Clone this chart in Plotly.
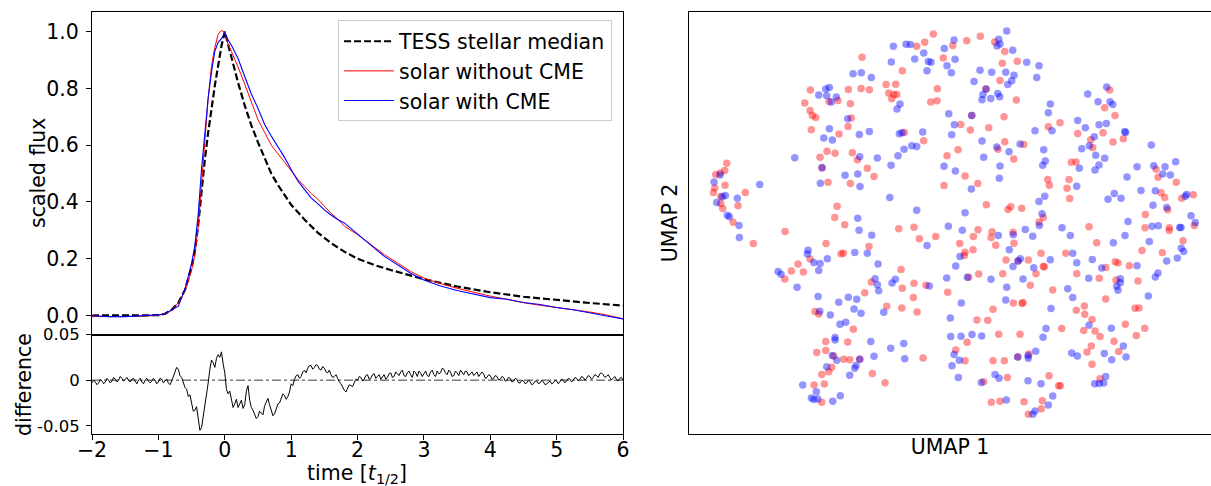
import plotly.graph_objects as go

# ---------------- data: light curves (time in t_1/2 units) ----------------
TESS_T = [-2.0, -1.5, -1.2, -1.0, -0.9, -0.8, -0.7, -0.6, -0.5, -0.45, -0.4, -0.35, -0.3,
          -0.25, -0.2, -0.15, -0.1, -0.05, 0.0, 0.05, 0.1, 0.15, 0.2, 0.3, 0.4, 0.5, 0.6,
          0.7, 0.8, 0.9, 1.0, 1.2, 1.4, 1.6, 1.8, 2.0, 2.25, 2.5, 2.75, 3.0, 3.5, 4.0,
          4.5, 5.0, 5.5, 6.0]
TESS_FLUX = [0.0, 0.0, 0.0, 0.001, 0.006, 0.02, 0.045, 0.09, 0.17, 0.225, 0.32, 0.445, 0.55,
             0.645, 0.73, 0.81, 0.88, 0.95, 1.0, 0.955, 0.915, 0.865, 0.82, 0.74, 0.67, 0.61,
             0.555, 0.50, 0.46, 0.425, 0.39, 0.338, 0.292, 0.255, 0.225, 0.20, 0.178, 0.16,
             0.143, 0.128, 0.102, 0.082, 0.066, 0.054, 0.044, 0.035]

SOLAR_T = [-2.0, -1.75, -1.5, -1.25, -1.0, -0.9, -0.8, -0.7, -0.6, -0.55, -0.5, -0.45, -0.4,
           -0.35, -0.3, -0.25, -0.2, -0.15, -0.1, -0.05, 0.0, 0.05, 0.1, 0.15, 0.2, 0.3, 0.4,
           0.5, 0.6, 0.7, 0.8, 0.9, 1.0, 1.1, 1.2, 1.3, 1.4, 1.5, 1.6, 1.7, 1.8, 1.9, 2.0,
           2.2, 2.4, 2.6, 2.8, 3.0, 3.25, 3.5, 3.75, 4.0, 4.25, 4.5, 4.75, 5.0, 5.25, 5.5,
           5.75, 6.0]
SOLAR_NO_CME = [-0.004, -0.005, -0.004, -0.003, 0.001, 0.006, 0.018, 0.045, 0.085, 0.12, 0.16,
                0.215, 0.315, 0.465, 0.625, 0.765, 0.88, 0.945, 0.99, 1.004, 0.998, 0.955,
                0.93, 0.905, 0.875, 0.815, 0.75, 0.69, 0.645, 0.60, 0.57, 0.54, 0.51, 0.48,
                0.455, 0.43, 0.41, 0.385, 0.36, 0.34, 0.315, 0.30, 0.285, 0.25, 0.215, 0.185,
                0.155, 0.132, 0.112, 0.096, 0.081, 0.068, 0.057, 0.045, 0.036, 0.027, 0.02,
                0.012, 0.002, -0.012]
SOLAR_CME = [-0.001, -0.004, -0.004, -0.002, 0.002, 0.006, 0.019, 0.033, 0.093, 0.138, 0.184,
             0.248, 0.357, 0.517, 0.655, 0.768, 0.858, 0.931, 0.962, 0.975, 0.995, 0.97,
             0.952, 0.931, 0.905, 0.842, 0.78, 0.73, 0.673, 0.632, 0.596, 0.557, 0.514, 0.474,
             0.444, 0.414, 0.394, 0.372, 0.354, 0.338, 0.326, 0.306, 0.285, 0.248, 0.209,
             0.178, 0.149, 0.125, 0.104, 0.088, 0.076, 0.063, 0.057, 0.046, 0.039, 0.028,
             0.02, 0.008, -0.002, -0.012]

# difference (without CME - with CME), read every 0.05 t_1/2 from -2 ...
DIFF_START, DIFF_STEP = -2.0, 0.05
DIFF_V = [
    -0.003, -0.002, -0.003, -0.001, -0.002, 0.000, -0.001, 0.001, 0.000, 0.002,
    0.001, 0.000, 0.001, -0.001, 0.000, -0.002, 0.000, -0.001, -0.001, 0.000,
    -0.002, 0.001, -0.001, -0.003, -0.001, 0.008, 0.012, 0.003, -0.008, -0.018,
    -0.024, -0.033, -0.042, -0.052, -0.030, -0.003, 0.022, 0.014, 0.028, 0.031,
    0.008, -0.015, -0.022, -0.026, -0.030, -0.022, -0.027, -0.006, -0.030, -0.037,
    -0.040, -0.036, -0.028, -0.020, -0.032, -0.037, -0.026, -0.020, -0.017, -0.018,
    -0.004, 0.001, 0.006, 0.004, 0.011, 0.013, 0.016, 0.014, 0.016, 0.011,
    0.013, 0.008, 0.006, 0.004, 0.002, -0.004, -0.011, -0.008, -0.006, -0.003,
    0.000, 0.003, 0.001, 0.006, 0.002, 0.007, 0.004, 0.001, 0.006, 0.003,
    0.008, 0.004, 0.007, 0.009, 0.005, 0.008, 0.006, 0.010, 0.004, 0.008,
    0.007, 0.005, 0.009, 0.006, 0.010, 0.008, 0.012, 0.006, 0.009, 0.005,
    0.008, 0.011, 0.006, 0.009, 0.007, 0.005, 0.009, 0.006, 0.007, 0.003,
    0.005, 0.002, 0.004, 0.001, 0.003, 0.000, 0.002, -0.001, 0.001, -0.003,
    -0.001, -0.003, -0.002, -0.004, -0.001, -0.003, -0.002, -0.004, -0.001, -0.003,
    -0.001, -0.002, 0.000, -0.001, 0.001, 0.000, 0.002, 0.001, 0.003, 0.002,
    0.004, 0.003, 0.005, 0.007, 0.006, 0.004, 0.003, 0.002, 0.001, 0.002,
    0.000]
# ... and the jitter read halfway between those samples
DIFF_V_MID = [
    0.000, -0.005, 0.001, -0.004, 0.002, -0.003, 0.003, -0.002, 0.004, -0.001,
    0.003, -0.002, 0.002, -0.004, 0.002, -0.004, 0.002, -0.003, 0.002, -0.004,
    0.002, -0.003, 0.001, -0.005, 0.004, 0.014, 0.005, -0.002, -0.010, -0.016,
    -0.034, -0.029, -0.055, -0.040, -0.018, 0.012, 0.019, 0.024, 0.025, 0.018,
    -0.010, -0.012, -0.030, -0.021, -0.025, -0.031, -0.012, -0.022, -0.033, -0.042,
    -0.034, -0.038, -0.024, -0.027, -0.039, -0.031, -0.025, -0.015, -0.021, -0.013,
    -0.006, 0.005, 0.002, 0.009, 0.008, 0.016, 0.012, 0.017, 0.012, 0.015,
    0.009, 0.011, 0.003, 0.006, -0.002, -0.008, -0.013, -0.005, -0.007, 0.001,
    0.004, -0.001, 0.005, 0.001, 0.006, 0.002, 0.006, 0.004, 0.001, 0.007,
    0.003, 0.009, 0.005, 0.011, 0.004, 0.010, 0.003, 0.008, 0.010, 0.004,
    0.010, 0.004, 0.011, 0.004, 0.007, 0.013, 0.008, 0.011, 0.004, 0.010,
    0.005, 0.008, 0.010, 0.005, 0.009, 0.007, 0.004, 0.009, 0.002, 0.006,
    0.001, 0.005, 0.000, 0.004, -0.001, 0.003, -0.002, 0.002, -0.003, 0.000,
    -0.004, 0.000, -0.005, -0.001, -0.004, 0.000, -0.005, -0.002, -0.004, 0.000,
    -0.004, 0.001, -0.003, 0.002, -0.002, 0.003, -0.001, 0.004, 0.000, 0.005,
    0.001, 0.006, 0.003, 0.008, 0.003, 0.006, 0.000, 0.004, -0.001, 0.003]
_diff_pts = sorted(
    [(DIFF_START + DIFF_STEP * i, v) for i, v in enumerate(DIFF_V)]
    + [(DIFF_START + DIFF_STEP * (i + 0.5), v) for i, v in enumerate(DIFF_V_MID)])
DIFF_T = [round(t, 4) for t, _ in _diff_pts]
DIFF_Y = [v for _, v in _diff_pts]

TIME_TICKS = [-2, -1, 0, 1, 2, 3, 4, 5, 6]
FLUX_TICKS = [0.0, 0.2, 0.4, 0.6, 0.8, 1.0]
FLUX_TICK_TEXT = ["0.0", "0.2", "0.4", "0.6", "0.8", "1.0"]
DIFF_TICKS = [-0.05, 0.0, 0.05]
DIFF_TICK_TEXT = ["-0.05", "0", "0.05"]

# ---------------- data: UMAP embedding ----------------
RED_U1 = [3.87, 2.77, 3.23, 3.67, 3.7, 2.67, 2.53, 3.27, 3.27, 3.47, 5.73, 5.0,
          17.4, 12.23, 16.03, 17.3, 11.67, 15.0, 14.1, 16.23, 12.2, 12.43, 12.77, 16.33,
          16.0, 12.33, 15.1, 13.9, 13.2, 14.7, 16.43, 16.93, 14.0, 16.23, 14.9, 14.67, 13.4,
          24.53, 23.67, 22.87, 26.47, 27.87, 29.23, 30.67, 31.67, 32.93, 31.43, 25.53, 21.43,
          31.2, 18.13, 19.8, 20.77, 20.07, 20.57, 20.87, 20.37, 24.93, 24.27, 24.9, 29.8,
          32.83, 28.37, 31.6, 27.27, 28.23, 30.07, 21.63, 23.57, 31.67, 33.57, 31.0, 27.0,
          25.9, 32.57, 17.93, 18.6, 27.7, 28.97, 25.6, 29.83, 32.27, 32.0, 33.37,
          42.17, 41.67, 42.7, 37.2, 36.03, 38.97, 41.5, 40.27, 40.47, 42.5, 43.53, 38.33,
          38.8, 35.97, 36.13, 38.1, 37.9, 38.17, 46.8, 47.0, 48.83, 47.3, 47.67, 50.53,
          49.37, 47.97, 45.73, 35.53,
          4.5, 9.7, 6.53, 13.8, 15.67, 15.3, 15.53, 12.2, 11.0, 10.33, 11.53, 9.67, 17.67,
          12.7, 13.07, 16.53, 13.77, 15.97, 12.87, 13.77, 14.57, 15.57, 16.17, 17.17, 14.37,
          14.07, 13.37, 12.6, 13.63, 13.37,
          21.07, 22.6, 23.13, 24.77, 18.1, 27.17, 28.53, 29.0, 30.4, 30.3, 30.77, 32.5, 32.6,
          35.1, 27.7, 27.63, 28.5, 31.8, 34.03, 33.0, 34.8, 21.3, 18.33, 22.6, 23.8, 21.43,
          22.53, 19.87, 21.37, 22.9, 25.97, 28.07, 29.07, 31.47, 34.23, 30.5, 32.53, 33.4,
          33.5, 28.9, 29.97, 31.07, 33.2, 27.9, 26.77, 23.5, 27.7, 30.5, 31.63, 32.97, 34.1,
          18.43, 19.7, 29.57, 31.93, 30.33, 31.2, 33.6, 34.03,
          40.1, 45.7, 48.13, 48.13, 50.63, 40.87, 49.5, 45.4, 47.43, 35.3, 37.77, 35.63,
          35.53, 38.87, 41.77, 42.73, 43.0, 44.13, 41.13, 42.8, 45.0, 36.47, 41.77, 38.83,
          39.63, 39.67, 40.4, 44.7, 45.1, 37.37, 39.57, 40.7, 41.2, 43.73, 45.67, 44.83,
          42.6, 40.33, 39.9, 43.07, 40.4, 36.1, 37.07, 37.23, 41.2, 35.43, 35.33]
RED_U2 = [26.83, 25.7, 25.87, 26.1, 24.63, 24.37, 23.9, 23.5, 22.8, 22.3, 23.9, 22.57,
          37.47, 34.17, 34.23, 34.33, 32.87, 33.13, 33.03, 32.8, 32.13, 31.63, 31.43, 31.37,
          30.53, 30.2, 29.77, 28.03, 27.43, 27.83, 27.9, 27.2, 24.93, 24.8, 22.53, 21.4, 26.4,
          39.8, 38.97, 38.57, 38.63, 39.13, 39.57, 39.0, 38.03, 37.07, 36.87, 37.4, 36.1,
          35.13, 34.2, 34.73, 34.77, 33.87, 33.73, 33.73, 33.3, 34.3, 32.97, 33.1, 34.27,
          33.17, 31.63, 31.5, 30.73, 30.17, 30.4, 29.93, 29.1, 29.0, 28.73, 28.23, 28.2,
          27.6, 27.27, 26.33, 25.5, 25.57, 24.8, 24.6, 22.67, 22.47, 22.2, 22.33,
          34.17, 32.4, 31.63, 30.9, 30.5, 29.83, 29.9, 29.2, 28.43, 28.97, 29.3, 26.93,
          26.97, 25.2, 24.63, 25.2, 24.33, 23.3, 26.23, 25.43, 24.93, 23.87, 23.4, 23.67,
          23.33, 22.17, 21.7, 21.4,
          20.93, 20.0, 18.8, 18.8, 20.67, 17.77, 17.83, 17.23, 16.73, 16.03, 15.93, 15.23, 13.87,
          11.97, 11.73, 10.2, 8.97, 8.93, 7.87, 8.07, 7.53, 7.2, 7.13, 7.2, 6.4,
          5.93, 5.67, 4.6, 4.7, 2.87,
          20.27, 20.43, 19.27, 19.5, 18.5, 18.8, 19.5, 20.17, 19.97, 19.4, 18.63, 19.93, 18.83,
          20.93, 17.93, 17.6, 18.17, 17.13, 17.13, 17.03, 15.77, 16.2, 14.93, 14.8, 14.6, 14.3,
          13.37, 12.5, 12.33, 11.93, 13.9, 15.4, 15.73, 15.77, 14.6, 12.2, 12.83, 12.77,
          12.87, 11.13, 11.1, 9.7, 9.7, 8.9, 8.13, 7.33, 7.03, 7.03, 7.03, 7.43, 7.73,
          5.77, 4.83, 4.93, 5.37, 2.87, 2.97, 2.93, 1.67,
          20.47, 20.37, 20.37, 20.1, 20.6, 18.87, 19.07, 18.1, 17.87, 17.83, 17.83, 16.47,
          16.5, 15.77, 16.4, 16.97, 16.83, 16.57, 15.3, 15.13, 15.03, 14.13, 13.23, 12.1,
          12.53, 11.7, 11.17, 12.3, 12.33, 10.27, 10.07, 10.03, 9.47, 10.7, 10.3, 9.57,
          9.0, 8.53, 7.93, 7.97, 6.7, 5.53, 4.53, 4.53, 5.23, 3.03, 2.23]

BLUE_U1 = [16.5, 17.33, 13.07, 13.77, 14.13, 13.87, 14.83, 14.33, 15.97, 14.13, 13.57, 14.43,
           17.13, 10.67, 13.4, 17.17, 15.7, 16.97, 13.23, 17.2, 2.6, 3.2, 3.73, 3.43, 2.87,
           4.93, 7.17, 3.93, 4.13, 16.97,
           20.53, 21.8, 22.23, 26.6, 25.63, 23.57, 22.67, 24.03, 24.3, 26.7, 25.9, 23.9, 26.33,
           20.33, 18.33, 31.87, 31.07, 31.2, 30.9, 32.47, 33.87, 35.1, 29.2, 30.37, 31.77,
           32.6, 32.37, 31.97, 34.87, 28.6, 29.8, 29.5, 29.4, 30.27, 30.97, 31.17, 21.2, 20.9,
           26.07, 28.37, 26.63, 26.37, 18.13, 21.13, 21.4, 23.47, 34.7, 22.37, 22.87, 21.6,
           21.0, 18.93, 20.3, 29.4, 30.87, 33.2, 32.1, 29.57, 25.6, 26.73, 31.2, 31.13, 28.33,
           20.17, 22.87, 27.7, 35.1,
           41.87, 39.97, 41.0, 42.2, 42.47, 36.23, 36.03, 36.4, 38.97, 39.73, 41.1, 41.83,
           43.67, 43.77, 40.63, 40.13, 39.37, 40.77, 41.67, 41.1, 40.7, 39.13, 35.57, 35.73,
           35.47, 35.67, 38.87, 46.33, 44.9, 46.57, 47.7, 48.77, 47.47, 48.23, 43.9, 45.3,
           46.73, 42.63, 42.0, 43.3, 46.5, 47.87, 49.87, 49.73, 50.3, 35.4,
           5.1, 5.13, 17.1, 12.0, 11.93, 12.57, 13.2, 13.93, 13.07, 9.0, 9.3, 16.67, 10.9,
           13.0, 15.07, 16.03, 16.87, 16.6, 17.3, 13.17, 14.23, 15.2, 15.77, 14.7, 14.7,
           14.43, 14.87, 13.87, 16.8, 16.67, 16.17, 17.17, 11.47, 12.83, 12.33, 12.57, 12.97,
           14.47, 15.23,
           18.37, 17.93, 26.03, 27.43, 23.9, 31.03, 32.53, 33.73, 34.47, 35.13, 32.13, 27.2,
           26.77, 19.0, 18.7, 18.93, 19.07, 20.4, 20.73, 24.13, 25.87, 27.93, 30.3, 32.5,
           33.23, 33.0, 34.57, 33.5, 31.87, 31.77, 27.33, 19.57, 26.23, 26.27, 27.3, 28.4,
           29.37, 18.27, 20.27, 21.57, 18.6, 21.67, 26.6, 27.13, 26.4, 27.03, 30.7, 31.1,
           29.33, 34.0, 34.03, 34.77, 32.97, 34.0, 31.83, 34.7, 34.47,
           37.4, 38.23, 44.0, 46.4, 47.03, 49.17, 49.3, 50.73, 43.7, 42.53, 46.13, 49.33,
           49.57, 48.93, 47.87, 38.47, 36.23, 38.87, 40.43, 41.37, 44.9, 40.07, 43.23, 43.23,
           42.87, 43.0, 47.0, 46.73, 46.03, 37.97, 38.47, 36.3, 35.8, 35.5, 40.1, 42.33,
           43.53, 38.37, 38.93, 41.63, 42.37, 43.8, 41.77, 40.67, 41.13, 41.57, 35.3, 36.47,
           36.03]
BLUE_U2 = [35.8, 35.9, 33.67, 34.27, 34.43, 33.6, 33.47, 32.97, 31.3, 30.3, 29.37, 29.17,
           29.73, 27.4, 26.4, 27.5, 25.63, 25.77, 24.83, 24.5, 24.97, 25.67, 23.6, 23.47, 22.9,
           23.33, 24.7, 21.63, 21.47, 21.33,
           38.57, 38.77, 38.73, 39.2, 38.33, 37.9, 37.3, 37.03, 36.97, 37.27, 36.6, 36.1, 35.9,
           37.0, 35.43, 40.1, 39.27, 38.8, 38.6, 38.17, 36.97, 36.6, 36.17, 35.97, 35.97,
           35.67, 35.1, 34.73, 35.43, 35.03, 34.27, 33.73, 33.2, 33.33, 33.83, 33.5, 32.77, 32.27,
           31.8, 31.63, 30.7, 29.7, 30.03, 29.8, 29.9, 29.97, 30.1, 28.6, 28.53, 28.23,
           27.6, 27.37, 26.63, 29.07, 28.47, 28.77, 28.0, 27.43, 26.53, 26.07, 26.57, 25.33, 24.27,
           23.4, 22.13, 21.87, 23.0,
           34.47, 33.77, 33.0, 33.0, 32.73, 32.77, 31.9, 30.1, 31.13, 30.4, 30.7, 30.83,
           30.03, 29.93, 29.5, 28.6, 28.3, 27.63, 27.33, 26.67, 26.17, 26.33, 28.2, 27.07,
           26.63, 23.53, 24.53, 28.67, 26.5, 26.6, 26.5, 27.0, 25.77, 25.67, 25.47, 24.1,
           24.07, 23.8, 23.23, 23.33, 22.63, 22.4, 23.7, 23.53, 21.57, 21.77,
           20.6, 19.4, 20.13, 18.13, 17.73, 16.9, 16.8, 17.27, 16.1, 16.0, 15.7, 17.9, 14.4,
           13.47, 12.9, 13.4, 13.2, 12.23, 11.8, 12.0, 11.63, 10.7, 10.9, 9.37, 9.13,
           7.57, 7.1, 6.43, 6.57, 6.3, 5.6, 7.2, 4.6, 3.93, 3.3, 3.17, 3.2,
           2.97, 3.53,
           19.63, 17.83, 20.53, 20.13, 18.6, 19.6, 19.67, 20.2, 19.53, 20.6, 18.17, 17.5,
           16.53, 16.73, 15.27, 14.67, 14.07, 14.83, 15.2, 14.53, 15.33, 15.4, 15.2, 16.5,
           17.27, 17.03, 16.37, 15.23, 14.4, 13.13, 12.83, 11.9, 11.33, 9.47, 9.5, 9.67,
           9.53, 8.97, 8.3, 8.77, 7.5, 7.23, 7.67, 7.1, 6.53, 5.37, 5.67, 5.3,
           4.87, 7.57, 7.3, 8.0, 7.43, 5.03, 3.1, 2.0, 1.67,
           20.37, 19.6, 21.0, 20.53, 20.57, 20.4, 20.4, 20.9, 19.6, 18.87, 19.0, 18.33,
           18.0, 17.33, 17.03, 17.83, 17.17, 16.87, 17.2, 16.33, 16.57, 15.3, 15.27, 14.87,
           14.5, 14.1, 15.83, 15.43, 13.53, 14.27, 13.37, 12.27, 10.27, 9.4, 10.6, 10.3,
           8.53, 7.83, 7.53, 7.77, 7.13, 7.43, 5.47, 4.73, 4.77, 4.8, 4.73, 3.5,
           2.6]

FONT = "DejaVu Sans"
FS = 20.5
FS_DIFF_TICKS = 16.5
BLUE = "rgb(0,0,255)"
RED = "rgb(255,0,0)"

fig = go.Figure()

fig.add_trace(go.Scatter(x=TESS_T, y=TESS_FLUX, mode="lines", name="TESS stellar median",
                         line=dict(color="black", width=2.2, dash="7px,3px"),
                         legendrank=1, xaxis="x", yaxis="y"))
fig.add_trace(go.Scatter(x=SOLAR_T, y=SOLAR_NO_CME, mode="lines", name="solar without CME",
                         line=dict(color=RED, width=1), legendrank=2,
                         xaxis="x", yaxis="y"))
fig.add_trace(go.Scatter(x=SOLAR_T, y=SOLAR_CME, mode="lines", name="solar with CME",
                         line=dict(color=BLUE, width=1.1), legendrank=3,
                         xaxis="x", yaxis="y"))

fig.add_trace(go.Scatter(x=RED_U1, y=RED_U2, mode="markers", showlegend=False,
                         marker=dict(color="rgba(255,0,0,0.42)", size=7.5, line=dict(width=0)),
                         xaxis="x3", yaxis="y3"))
fig.add_trace(go.Scatter(x=BLUE_U1, y=BLUE_U2, mode="markers", showlegend=False,
                         marker=dict(color="rgba(0,0,255,0.42)", size=7.5, line=dict(width=0)),
                         xaxis="x3", yaxis="y3"))

fig.add_trace(go.Scatter(x=DIFF_T, y=DIFF_Y, mode="lines", showlegend=False,
                         line=dict(color="black", width=1), xaxis="x2", yaxis="y2"))

# zero reference line in the difference panel
fig.add_shape(type="line", xref="x2 domain", yref="y2", x0=0, x1=1, y0=0, y1=0,
              line=dict(color="black", width=0.8, dash="dashdot"), layer="below")

axis_common = dict(showgrid=False, zeroline=False, showline=True, linecolor="black",
                   linewidth=1, tickfont=dict(family=FONT, size=FS, color="black"),
                   ticks="outside", ticklen=5, tickwidth=1, tickcolor="black",
                   automargin=False)
title_font = dict(family=FONT, size=FS, color="black")

LEFT_DOM = [0.076, 0.5145]
BOTTOM = 0.107
SPLIT = 0.3117
TOP = 0.9753
fig.update_layout(
    width=1211, height=486,
    margin=dict(l=0, r=0, t=0, b=0),
    paper_bgcolor="white", plot_bgcolor="white",
    hovermode=False,
    font=dict(family=FONT, size=FS, color="black"),
    xaxis=dict(axis_common, domain=LEFT_DOM, anchor="y", range=[-2, 6], mirror=True,
               showticklabels=False, ticks=""),
    yaxis=dict(axis_common, domain=[SPLIT, TOP], anchor="x", range=[-0.067, 1.069],
               mirror=True, tickvals=FLUX_TICKS, ticktext=FLUX_TICK_TEXT,
               ticklabelstandoff=3),
    xaxis2=dict(axis_common, domain=LEFT_DOM, anchor="y2", range=[-2, 6], mirror=True,
                tickvals=TIME_TICKS, ticklabelstandoff=-8),
    yaxis2=dict(axis_common, domain=[BOTTOM, SPLIT], anchor="x2", range=[-0.059, 0.05],
                mirror=True, tickvals=DIFF_TICKS, ticktext=DIFF_TICK_TEXT,
                tickfont=dict(family=FONT, size=FS_DIFF_TICKS, color="black"),
                ticklabelstandoff=3),
    xaxis3=dict(axis_common, domain=[0.569, 1.0], anchor="y3", range=[0.1, 52.3], mirror=True,
                showticklabels=False, ticks="",
                title=dict(text="UMAP 1", font=title_font, standoff=5)),
    yaxis3=dict(axis_common, domain=[BOTTOM, TOP], anchor="x3", range=[-0.3, 42.0],
                mirror=False, showticklabels=False, ticks="",
                title=dict(text="UMAP 2", font=title_font, standoff=4)),
    legend=dict(x=0.5054, xanchor="right", y=0.958, yanchor="top",
                bgcolor="rgba(255,255,255,0.8)", bordercolor="#cccccc", borderwidth=1,
                itemwidth=50, traceorder="normal",
                font=dict(family=FONT, size=FS, color="black"), tracegroupgap=0),
)

# axis titles of the left panels, placed like the original labels
fig.add_annotation(text="scaled flux", xref="paper", yref="paper", x=38 / 1211,
                   y=1 - 173 / 486, textangle=-90, showarrow=False, font=title_font,
                   xanchor="center", yanchor="middle")
fig.add_annotation(text="difference", xref="paper", yref="paper", x=24 / 1211,
                   y=1 - 385 / 486, textangle=-90, showarrow=False, font=title_font,
                   xanchor="center", yanchor="middle")
fig.add_annotation(text="time [<i>t</i><sub>1/2</sub>]", xref="paper", yref="paper",
                   x=357.5 / 1211, y=1 - 474 / 486, showarrow=False, font=title_font,
                   xanchor="center", yanchor="middle", borderpad=0)

# the page body has a default 8px margin; remove it so the figure fills the window
fig.write_html("out.html", config={"displayModeBar": False},
               post_script="document.body.style.margin='0px';")
